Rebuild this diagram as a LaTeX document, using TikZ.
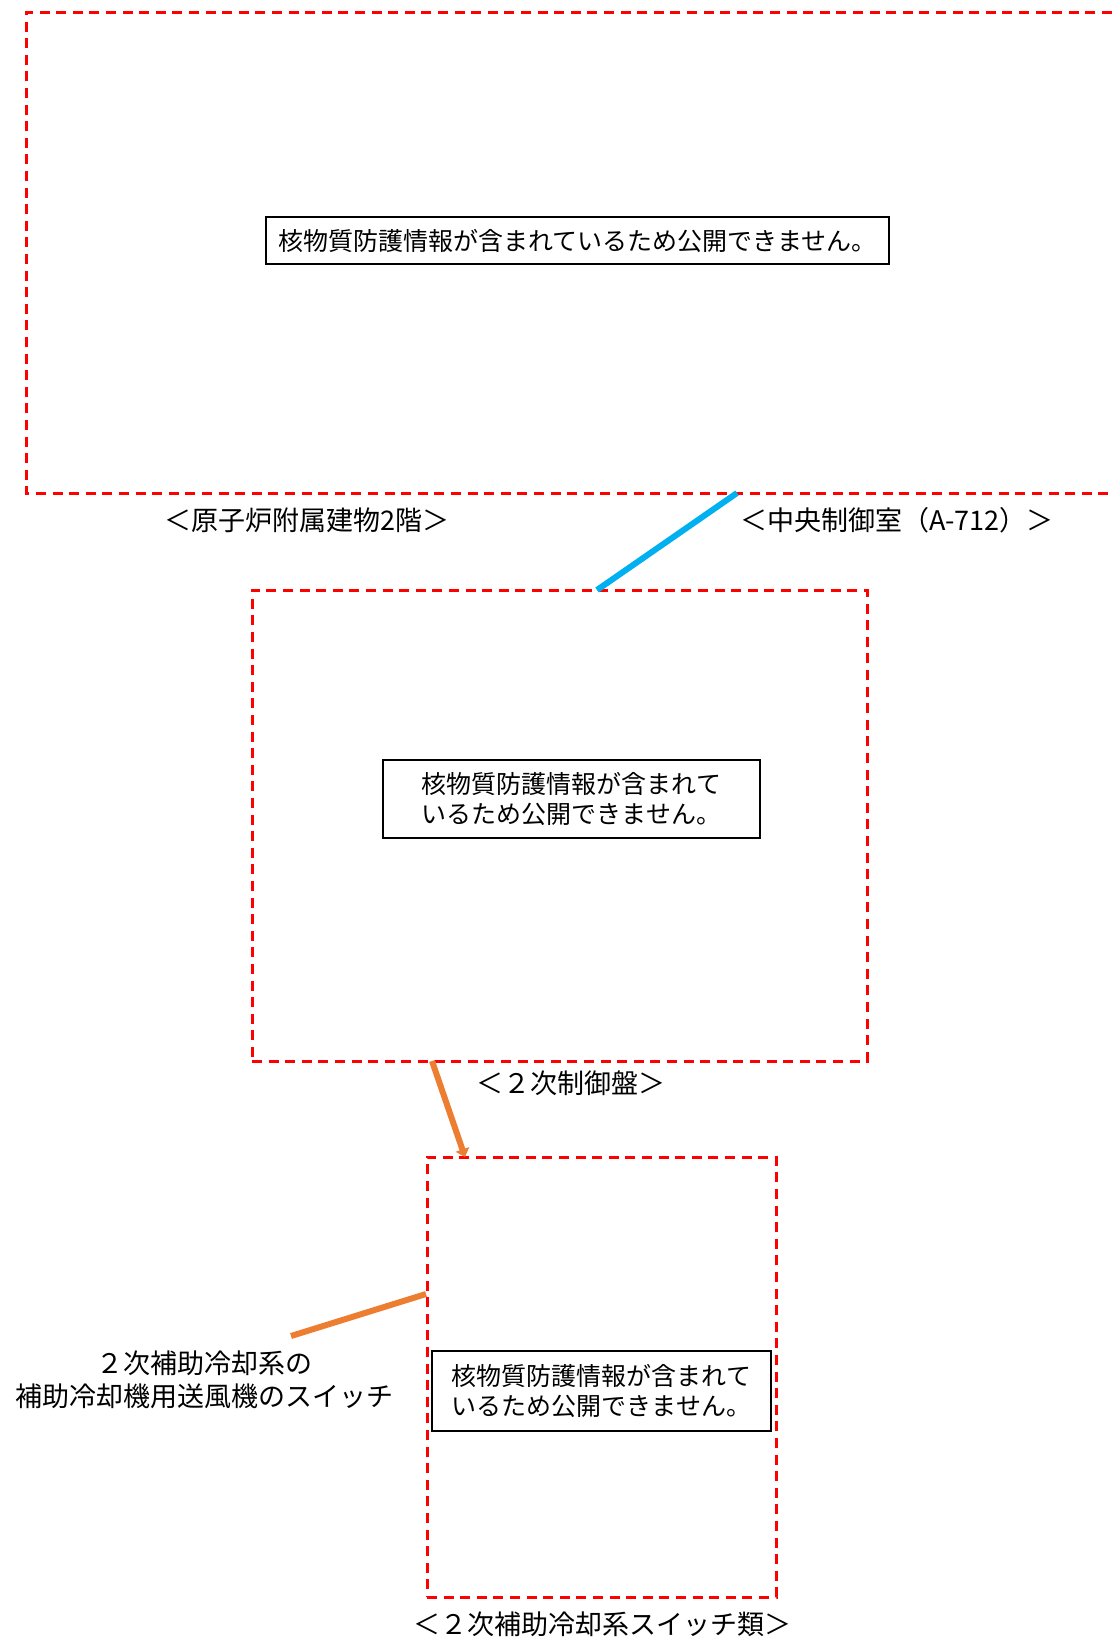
\documentclass[tikz,border=0pt]{standalone}
\usepackage{fontspec}
\newfontfamily\jpfont{Noto Sans CJK JP}
\usepackage{tikz}
\usetikzlibrary{arrows.meta,positioning}
\definecolor{areared}{RGB}{255,0,0}
\definecolor{cableblue}{RGB}{0,176,240}
\definecolor{pointorange}{RGB}{237,125,49}

\tikzset{
  arealine/.style={draw=areared,line width=1.5pt,dash pattern=on 5pt off 3.3pt},
  areabox/.style={arealine,inner sep=0pt},
  maskbox/.style={draw=black,line width=0.8pt,fill=white,align=center,inner sep=0pt,
    font=\jpfont\fontsize{12.5}{15}\selectfont},
  placelabel/.style={align=center,inner sep=0pt,font=\jpfont\fontsize{13.5}{16.5}\selectfont},
}

\begin{document}
\begin{tikzpicture}[x=0.5pt,y=-0.5pt]
    \useasboundingbox (0,0) rectangle (1112,1644);

    % Reactor annex building, 2nd floor (runs off the right edge)
    \draw[arealine] (1112,12) -- (26,12) -- (26,493) -- (1112,493);
    \node[maskbox,minimum width=311.5pt,minimum height=23.5pt] (maskA) at (577.5,240.5)
        {核物質防護情報が含まれているため公開できません。};
    \node[placelabel] (lblBuilding) at (307,520) {＜原子炉附属建物2階＞};
    \node[placelabel] (lblRoom) at (897,520) {＜中央制御室（A-712）＞};

    % Secondary control panel
    \node[areabox,minimum width=307.5pt,minimum height=235.5pt] (ctrlpanel) at (559.5,825.5) {};
    \node[maskbox,minimum width=188.5pt,minimum height=39pt] (maskB) at (571.5,799)
        {核物質防護情報が含まれて\\いるため公開できません。};
    \node[placelabel] (lblPanel) at (571,1083) {＜２次制御盤＞};

    % Switch group
    \node[areabox,minimum width=174.5pt,minimum height=220pt] (switchgrp) at (601.5,1377) {};
    \node[maskbox,minimum width=169.5pt,minimum height=40pt] (maskC) at (601.5,1391)
        {核物質防護情報が含まれて\\いるため公開できません。};
    \node[placelabel] (lblSwitch) at (602,1624) {＜２次補助冷却系スイッチ類＞};
    \node[placelabel] (lblBlower) at (204,1380) {２次補助冷却系の\\補助冷却機用送風機のスイッチ};

    % Connectors
    \coordinate (cableTop) at (737,493);
    \coordinate (cableBot) at (597,590);
    \draw[cableblue,line width=3pt] (cableTop) -- (cableBot);

    \coordinate (zoomFrom) at (432,1061);
    \coordinate (zoomTo) at (465,1157);
    \draw[pointorange,line width=3pt,-{Triangle[length=4pt,width=7pt]}] (zoomFrom) -- (zoomTo);

    \coordinate (leadBox) at (426,1294);
    \coordinate (leadText) at (291,1336);
    \draw[pointorange,line width=3pt] (leadBox) -- (leadText);
\end{tikzpicture}
\end{document}
